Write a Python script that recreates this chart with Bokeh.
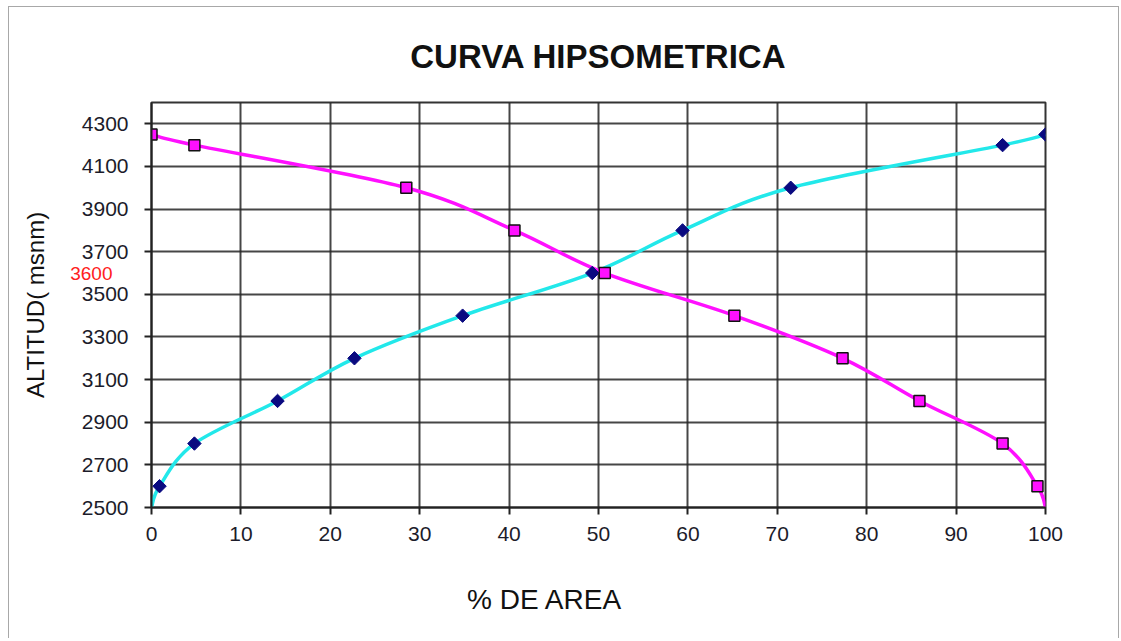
from bokeh.plotting import figure
from bokeh.models import ColumnDataSource, Range1d, FixedTicker, LinearAxis
from bokeh.embed import file_html
from bokeh.resources import INLINE

# ---- data ----
area_asc = [0, 0.9, 4.8, 14.1, 22.7, 34.8, 49.3, 59.4, 71.5, 95.2, 100]
alt_asc = [2500, 2600, 2800, 3000, 3200, 3400, 3600, 3800, 4000, 4200, 4250]
area_desc = [100, 99.1, 95.2, 85.9, 77.3, 65.2, 50.7, 40.6, 28.5, 4.8, 0]
alt_desc = [2500, 2600, 2800, 3000, 3200, 3400, 3600, 3800, 4000, 4200, 4250]
x_ticks = [0, 10, 20, 30, 40, 50, 60, 70, 80, 90, 100]
y_ticks = [2500, 2700, 2900, 3100, 3300, 3500, 3700, 3900, 4100, 4300]
red_tick = [3600]

FONT = "Liberation Sans"
CAPTION_ANCHOR = 44  # the x caption sits left of centre in the reference


def smooth_segments(xs, ys):
    """Catmull-Rom (Excel-like smoothing) Bezier control points for each segment."""
    n = len(xs)
    d = dict(x0=[], y0=[], x1=[], y1=[], cx0=[], cy0=[], cx1=[], cy1=[])
    for i in range(n - 1):
        p0 = (xs[max(i - 1, 0)], ys[max(i - 1, 0)])
        p1 = (xs[i], ys[i])
        p2 = (xs[i + 1], ys[i + 1])
        p3 = (xs[min(i + 2, n - 1)], ys[min(i + 2, n - 1)])
        d["x0"].append(p1[0]); d["y0"].append(p1[1])
        d["x1"].append(p2[0]); d["y1"].append(p2[1])
        d["cx0"].append(p1[0] + (p2[0] - p0[0]) / 6.0)
        d["cy0"].append(p1[1] + (p2[1] - p0[1]) / 6.0)
        d["cx1"].append(p2[0] - (p3[0] - p1[0]) / 6.0)
        d["cy1"].append(p2[1] - (p3[1] - p1[1]) / 6.0)
    return ColumnDataSource(d)


p = figure(width=1111, height=632, output_backend="svg", toolbar_location=None,
           x_range=Range1d(0, 100), y_range=Range1d(2500, 4400),
           min_border_left=142, min_border_right=75, min_border_top=95,
           min_border_bottom=132)
p.styles = {"margin-left": "8px", "margin-top": "6px",
            "border-top": "1px solid #a8a8a8", "border-left": "1px solid #a8a8a8",
            "border-right": "1px solid #a8a8a8"}

p.title.text = "CURVA HIPSOMETRICA"
p.title.text_font = FONT
p.title.text_font_size = "33px"
p.title.text_font_style = "bold"
p.title.align = "center"
p.title.text_color = "#111111"
p.title.standoff = 55

p.background_fill_color = "white"
p.border_fill_color = "white"
p.outline_line_color = "#333333"
p.outline_line_width = 2

# grid
p.xgrid.ticker = FixedTicker(ticks=x_ticks)
p.ygrid.ticker = FixedTicker(ticks=y_ticks)
for g in (p.xgrid, p.ygrid):
    g.grid_line_color = "#262626"
    g.grid_line_width = 2
    g.grid_line_alpha = 0.85

# axes
p.xaxis.ticker = FixedTicker(ticks=x_ticks)
p.yaxis.ticker = FixedTicker(ticks=y_ticks)
for ax in (p.xaxis, p.yaxis):
    ax.axis_line_color = "#222222"
    ax.axis_line_width = 2
    ax.major_tick_line_color = "#222222"
    ax.major_tick_line_width = 2
    ax.major_tick_out = 7
    ax.major_tick_in = 0
    ax.minor_tick_line_color = None
    ax.major_label_text_font = FONT
    ax.major_label_text_font_size = "21px"
    ax.major_label_text_color = "#1c1c2a"

p.xaxis.major_label_standoff = 12
p.yaxis.major_label_standoff = 16

# second left axis: the red "3600" label and the axis title
red_axis = LinearAxis(ticker=FixedTicker(ticks=red_tick),
                      axis_line_color=None, major_tick_line_color=None,
                      minor_tick_line_color=None, major_tick_out=0, major_tick_in=0,
                      major_label_standoff=-34,
                      major_label_text_font=FONT, major_label_text_font_size="19px",
                      major_label_text_color="#ff2020",
                      axis_label="ALTITUD( msnm)", axis_label_standoff=18,
                      axis_label_text_font=FONT, axis_label_text_font_size="24px",
                      axis_label_text_font_style="normal",
                      axis_label_text_color="#111111")
p.add_layout(red_axis, "left")

# second bottom axis carrying the x caption, placed left of centre like the reference
cap_axis = LinearAxis(ticker=FixedTicker(ticks=[CAPTION_ANCHOR]),
                      major_label_overrides={CAPTION_ANCHOR: "% DE AREA"},
                      axis_line_color=None, major_tick_line_color=None,
                      minor_tick_line_color=None, major_tick_out=0, major_tick_in=0,
                      major_label_standoff=40,
                      major_label_text_font=FONT, major_label_text_font_size="28px",
                      major_label_text_color="#111111")
p.add_layout(cap_axis, "below")

# smoothed curves
asc_seg = smooth_segments(area_asc, alt_asc)
desc_seg = smooth_segments(area_desc, alt_desc)
p.bezier(x0="x0", y0="y0", x1="x1", y1="y1", cx0="cx0", cy0="cy0", cx1="cx1", cy1="cy1",
         source=asc_seg, line_color="#22e8ea", line_width=3.5)
p.bezier(x0="x0", y0="y0", x1="x1", y1="y1", cx0="cx0", cy0="cy0", cx1="cx1", cy1="cy1",
         source=desc_seg, line_color="#ff10ff", line_width=3.5)

# markers (not on the first, axis-touching point)
p.scatter(area_asc[1:], alt_asc[1:], marker="square", angle=0.7854, size=9.5,
          fill_color="#0a0a80", line_color="#0a0a80")
p.scatter(area_desc[1:], alt_desc[1:], marker="square", size=11,
          fill_color="#ff10ff", line_color="#111111", line_width=1.5)

open("out.html", "w").write(file_html(p, INLINE))
